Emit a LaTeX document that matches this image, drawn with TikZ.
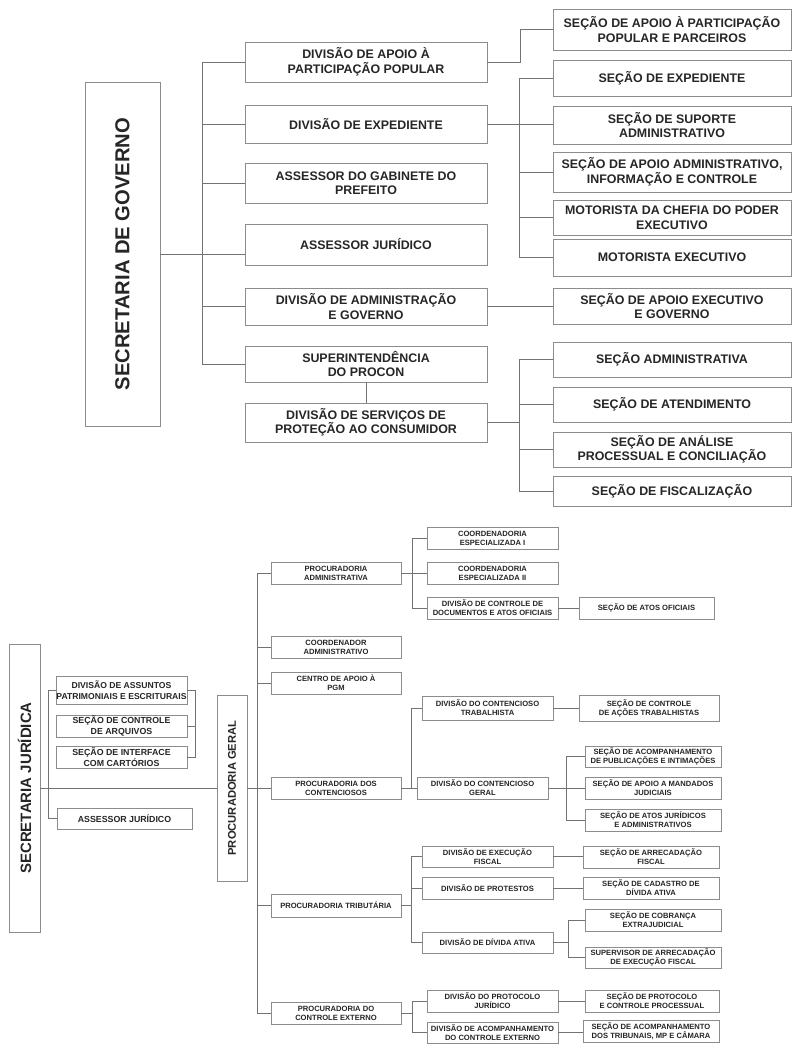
\documentclass[tikz,border=0pt]{standalone}
\usepackage{fontspec}
\setmainfont{Liberation Sans}
\usetikzlibrary{calc,shadows}
\begin{document}
\begin{tikzpicture}[x=1pt,y=-1pt,
  wh/.style 2 args={minimum width=#1pt, minimum height=#2pt},
  box/.style={draw=black!45, fill=white, line width=0.7pt, inner sep=0pt, align=center, text=black!85,
    drop shadow={shadow xshift=0.9pt, shadow yshift=-0.9pt, opacity=0.35}},
  big/.style={box, font=\fontsize{12.4}{14.5}\selectfont\bfseries},
  mid/.style={box, font=\fontsize{8.8}{10.5}\selectfont\bfseries},
  sm/.style={box, font=\fontsize{7.6}{9}\selectfont\bfseries},
  vlabel/.style={rotate=90, text=black!85, inner sep=0pt},
  conn/.style={draw=black!55, line width=0.7pt}]
\fill[white] (0,0) rectangle (793,1044);
\useasboundingbox (0,0) rectangle (793,1044);

% ---------------- SECRETARIA DE GOVERNO ----------------
\node[box, wh={75}{344}] (secgov) at (122.5,254) {};
\node[vlabel, font=\fontsize{20.2}{24}\selectfont\bfseries] (secgovlbl) at (secgov.center) {SECRETARIA DE GOVERNO};

\node[big, wh={242}{40}] (L1) at (366,62) {DIVISÃO DE APOIO À\\PARTICIPAÇÃO POPULAR};
\node[big, wh={242}{38}] (L2) at (366,124) {DIVISÃO DE EXPEDIENTE};
\node[big, wh={242}{40}] (L3) at (366,183) {ASSESSOR DO GABINETE DO\\PREFEITO};
\node[big, wh={242}{41}] (L4) at (366,244.5) {ASSESSOR JURÍDICO};
\node[big, wh={242}{37}] (L5) at (366,306.5) {DIVISÃO DE ADMINISTRAÇÃO\\E GOVERNO};
\node[big, wh={242}{36}] (L6) at (366,364) {SUPERINTENDÊNCIA\\DO PROCON};
\node[big, wh={242}{39}] (L7) at (366,422.5) {DIVISÃO DE SERVIÇOS DE\\PROTEÇÃO AO CONSUMIDOR};

\node[big, wh={238}{41}] (R1) at (672,29.5) {SEÇÃO DE APOIO À PARTICIPAÇÃO\\POPULAR E PARCEIROS};
\node[big, wh={238}{36}] (R2) at (672,78) {SEÇÃO DE EXPEDIENTE};
\node[big, wh={238}{38}] (R3) at (672,125) {SEÇÃO DE SUPORTE\\ADMINISTRATIVO};
\node[big, wh={238}{40}] (R4) at (672,172) {SEÇÃO DE APOIO ADMINISTRATIVO,\\INFORMAÇÃO E CONTROLE};
\node[big, wh={238}{35}] (R5) at (672,217.5) {MOTORISTA DA CHEFIA DO PODER\\EXECUTIVO};
\node[big, wh={238}{37}] (R6) at (672,257.5) {MOTORISTA EXECUTIVO};
\node[big, wh={238}{36}] (R7) at (672,306) {SEÇÃO DE APOIO EXECUTIVO\\E GOVERNO};
\node[big, wh={238}{35}] (R8) at (672,359.5) {SEÇÃO ADMINISTRATIVA};
\node[big, wh={238}{35}] (R9) at (672,404.5) {SEÇÃO DE ATENDIMENTO};
\node[big, wh={238}{35}] (R10) at (672,449.5) {SEÇÃO DE ANÁLISE\\PROCESSUAL E CONCILIAÇÃO};
\node[big, wh={238}{30}] (R11) at (672,491) {SEÇÃO DE FISCALIZAÇÃO};

\coordinate (tr) at (202,0);
\draw[conn] (L1.west) -| (tr |- L6.west) -- (L6.west);
\foreach \n in {L2,L3,L5} \draw[conn] (\n.west) -- (\n.west -| tr);
\draw[conn] (secgov.east) -- (secgov.east -| L4.west);

\draw[conn] (L1.east) -- ++(33,0) |- (R1.west);
\draw[conn] (L2.east) -- (L2.east -| R3.west);
\draw[conn] (R2.west) -- ++(-33,0) |- (R6.west);
\foreach \n in {R4,R5} \draw[conn] (\n.west) -- ++(-33,0);
\draw[conn] (L5.east) -- (L5.east -| R7.west);
\draw[conn] (L6.south) -- (L7.north);
\draw[conn] (L7.east) -- ++(33,0);
\draw[conn] (R8.west) -- ++(-33,0) |- (R11.west);
\foreach \n in {R9,R10} \draw[conn] (\n.west) -- ++(-33,0);

% ---------------- SECRETARIA JURÍDICA ----------------
\node[box, wh={31}{288}] (sj) at (24.5,788) {};
\node[vlabel, font=\fontsize{15}{18}\selectfont\bfseries] (sjlbl) at (sj.center) {SECRETARIA JURÍDICA};
\node[box, wh={30}{186}] (pg) at (232,788) {};
\node[vlabel, font=\fontsize{11.2}{14}\selectfont\bfseries] (pglbl) at (pg.center) {PROCURADORIA GERAL};

\node[mid, wh={131}{28}, font=\fontsize{8.6}{10.5}\selectfont\bfseries] (a1) at (121.5,690) {DIVISÃO DE ASSUNTOS\\PATRIMONIAIS E ESCRITURAIS};
\node[mid, wh={131}{22}] (a2) at (121.5,726) {SEÇÃO DE CONTROLE\\DE ARQUIVOS};
\node[mid, wh={131}{22}] (a3) at (121.5,757) {SEÇÃO DE INTERFACE\\COM CARTÓRIOS};
\node[mid, wh={135}{21}] (aj) at (124.5,818.5) {ASSESSOR JURÍDICO};

\node[sm, wh={130}{22}] (pa1) at (336,573) {PROCURADORIA\\ADMINISTRATIVA};
\node[sm, wh={130}{22}] (pa2) at (336,647) {COORDENADOR\\ADMINISTRATIVO};
\node[sm, wh={130}{22}] (pa3) at (336,683) {CENTRO DE APOIO À\\PGM};
\node[sm, wh={130}{22}] (pa4) at (336,788) {PROCURADORIA DOS\\CONTENCIOSOS};
\node[sm, wh={130}{23}] (pa5) at (336,905.5) {PROCURADORIA TRIBUTÁRIA};
\node[sm, wh={130}{22}] (pa6) at (336,1013) {PROCURADORIA DO\\CONTROLE EXTERNO};

\node[sm, wh={131}{22}] (c1) at (492.5,538) {COORDENADORIA\\ESPECIALIZADA I};
\node[sm, wh={131}{22}] (c2) at (492.5,573.5) {COORDENADORIA\\ESPECIALIZADA II};
\node[sm, wh={131}{22}] (c3) at (492.5,608) {DIVISÃO DE CONTROLE DE\\DOCUMENTOS E ATOS OFICIAIS};
\node[sm, wh={135}{22}] (sao) at (646.5,608) {SEÇÃO DE ATOS OFICIAIS};

\node[sm, wh={131}{24}] (d1) at (487.5,708) {DIVISÃO DO CONTENCIOSO\\TRABALHISTA};
\node[sm, wh={131}{22}] (d2) at (482.5,788) {DIVISÃO DO CONTENCIOSO\\GERAL};
\node[sm, wh={140}{26}] (sct) at (649,708) {SEÇÃO DE CONTROLE\\DE AÇÕES TRABALHISTAS};
\node[sm, wh={136}{21}] (e1) at (653,756.5) {SEÇÃO DE ACOMPANHAMENTO\\DE PUBLICAÇÕES E INTIMAÇÕES};
\node[sm, wh={136}{22}] (e2) at (653,788) {SEÇÃO DE APOIO A MANDADOS\\JUDICIAIS};
\node[sm, wh={136}{22}] (e3) at (653,820) {SEÇÃO DE ATOS JURÍDICOS\\E ADMINISTRATIVOS};

\node[sm, wh={131}{21}] (f1) at (487.5,856.5) {DIVISÃO DE EXECUÇÃO\\FISCAL};
\node[sm, wh={131}{22}] (f2) at (487.5,888) {DIVISÃO DE PROTESTOS};
\node[sm, wh={131}{21}] (f3) at (487.5,942.5) {DIVISÃO DE DÍVIDA ATIVA};
\node[sm, wh={136}{22}] (saf) at (651,857) {SEÇÃO DE ARRECADAÇÃO\\FISCAL};
\node[sm, wh={136}{22}] (scd) at (651,888) {SEÇÃO DE CADASTRO DE\\DÍVIDA ATIVA};
\node[sm, wh={136}{22}] (g1) at (653,920) {SEÇÃO DE COBRANÇA\\EXTRAJUDICIAL};
\node[sm, wh={136}{21}] (g2) at (653,957.5) {SUPERVISOR DE ARRECADAÇÃO\\DE EXECUÇÃO FISCAL};

\node[sm, wh={131}{22}] (h1) at (492.5,1001) {DIVISÃO DO PROTOCOLO\\JURÍDICO};
\node[sm, wh={131}{21}] (h2) at (492.5,1032.5) {DIVISÃO DE ACOMPANHAMENTO\\DO CONTROLE EXTERNO};
\node[sm, wh={134}{22}] (spc) at (652,1001) {SEÇÃO DE PROTOCOLO\\E CONTROLE PROCESSUAL};
\node[sm, wh={136}{22}] (sat) at (651,1031) {SEÇÃO DE ACOMPANHAMENTO\\DOS TRIBUNAIS, MP E CÂMARA};

\draw[conn] (sj.east) -- (pg.west);
\draw[conn] (a1.west) -- ++(-7,0) |- (aj.west);
\draw[conn] (a1.east) -- ++(8,0) |- (a3.east);
\draw[conn] (a2.east) -- ++(8,0);

\draw[conn] (pg.east) -- (pa4.west);
\draw[conn] (pa1.west) -- ++(-13,0) |- (pa6.west);
\foreach \n in {pa2,pa3,pa5} \draw[conn] (\n.west) -- ++(-13,0);

\draw[conn] (pa1.east) -- (pa1.east -| c2.west);
\draw[conn] (c1.west) -- ++(-14,0) |- (c3.west);
\draw[conn] (c3.east) -- (sao.west);

\draw[conn] (pa4.east) -- (d2.west);
\draw[conn] (d1.west) -- ++(-10,0) |- (d2.west);
\draw[conn] (d1.east) -- (sct.west);
\draw[conn] (d2.east) -- (e2.west);
\draw[conn] (e1.west) -- ++(-18,0) |- (e3.west);

\draw[conn] (pa5.east) -- ++(11,0);
\draw[conn] (f1.west) -- ++(-10,0) |- (f3.west);
\draw[conn] (f2.west) -- ++(-10,0);
\draw[conn] (f1.east) -- (f1.east -| saf.west);
\draw[conn] (f2.east) -- (scd.west);
\draw[conn] (f3.east) -- ++(16,0);
\draw[conn] (g1.west) -- ++(-16,0) |- (g2.west);

\draw[conn] (pa6.east) -- ++(12,0);
\draw[conn] (h1.west) -- ++(-14,0) |- (h2.west);
\draw[conn] (h1.east) -- (spc.west);
\draw[conn] (h2.east) -- (h2.east -| sat.west);
\end{tikzpicture}
\end{document}
